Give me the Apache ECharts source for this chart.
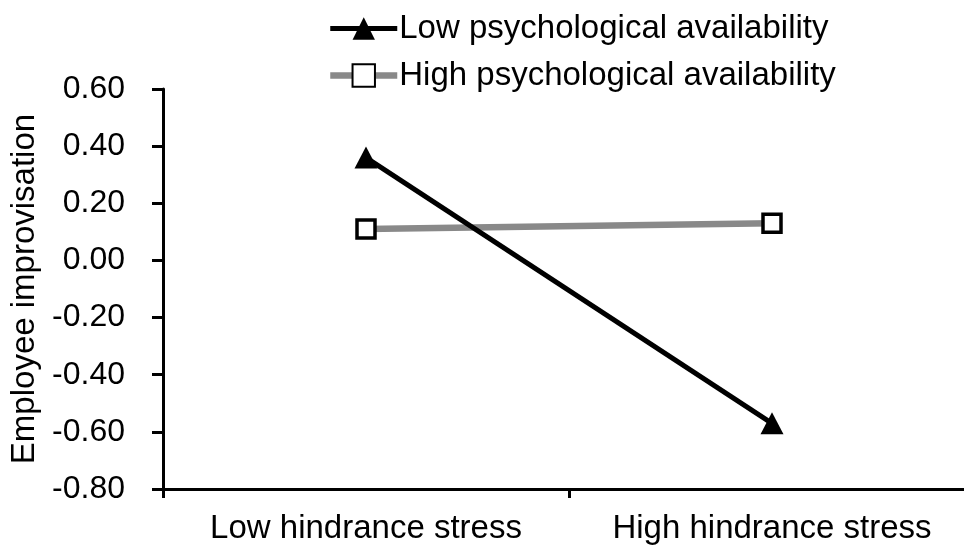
<!DOCTYPE html>
<html><head><meta charset="utf-8">
<script src="https://cdn.jsdelivr.net/npm/echarts@6/dist/echarts.min.js"></script>
<style>html,body{margin:0;padding:0;background:#fff}#c{width:964px;height:546px}</style>
</head><body><div id="c"></div>
<script>
const categories = ['Low hindrance stress', 'High hindrance stress'];
const lowAvail = [0.36, -0.57];
const highAvail = [0.11, 0.13];
const seriesNames = ['Low psychological availability', 'High psychological availability'];
const yTicks = [-0.8, -0.6, -0.4, -0.2, 0, 0.2, 0.4, 0.6];

const FONT = '"Liberation Sans", Arial, sans-serif';
const chart = echarts.init(document.getElementById('c'), null, {renderer: 'canvas'});
chart.setOption({
  animation: false,
  backgroundColor: '#fff',
  grid: {left: 163, width: 812, top: 89, bottom: 57, outerBoundsMode: 'none', containLabel: false},
  legend: {
    orient: 'vertical', left: 322, top: 7,
    itemWidth: 67, itemHeight: 28, itemGap: 14,
    lineStyle: {width: 'inherit'},
    textStyle: {fontFamily: FONT, fontSize: 33, color: '#000', lineHeight: 32, padding: [0, 0, 0, -3]},
    data: seriesNames
  },
  xAxis: {
    type: 'category', data: categories, boundaryGap: true,
    axisLine: {onZero: false, lineStyle: {color: '#000', width: 3}},
    axisTick: {show: true, length: 9, lineStyle: {color: '#000', width: 3}},
    axisLabel: {fontFamily: FONT, fontSize: 33, color: '#000', margin: 23, interval: 0, hideOverlap: false}
  },
  yAxis: {
    type: 'value', min: yTicks[0], max: yTicks[yTicks.length - 1], interval: 0.2,
    name: 'Employee improvisation', nameLocation: 'middle', nameGap: 112, nameRotate: 90,
    nameTextStyle: {fontFamily: FONT, fontSize: 33, color: '#000'},
    splitLine: {show: false},
    axisLine: {show: true, lineStyle: {color: '#000', width: 3}},
    axisTick: {show: true, length: 11, lineStyle: {color: '#000', width: 3}},
    axisLabel: {fontFamily: FONT, fontSize: 32, color: '#000', margin: 38,
      formatter: v => v.toFixed(2)}
  },
  series: [
    {
      name: seriesNames[0], type: 'line', data: lowAvail,
      symbol: 'triangle', symbolSize: [23, 22],
      lineStyle: {color: '#000', width: 5},
      itemStyle: {color: '#000', borderColor: '#000', borderWidth: 0},
      z: 3
    },
    {
      name: seriesNames[1], type: 'line', data: highAvail,
      symbol: 'rect', symbolSize: 18,
      lineStyle: {color: '#898989', width: 6.5},
      itemStyle: {color: '#fff', borderColor: '#000', borderWidth: 3.5},
      z: 2
    }
  ]
});
</script></body></html>
